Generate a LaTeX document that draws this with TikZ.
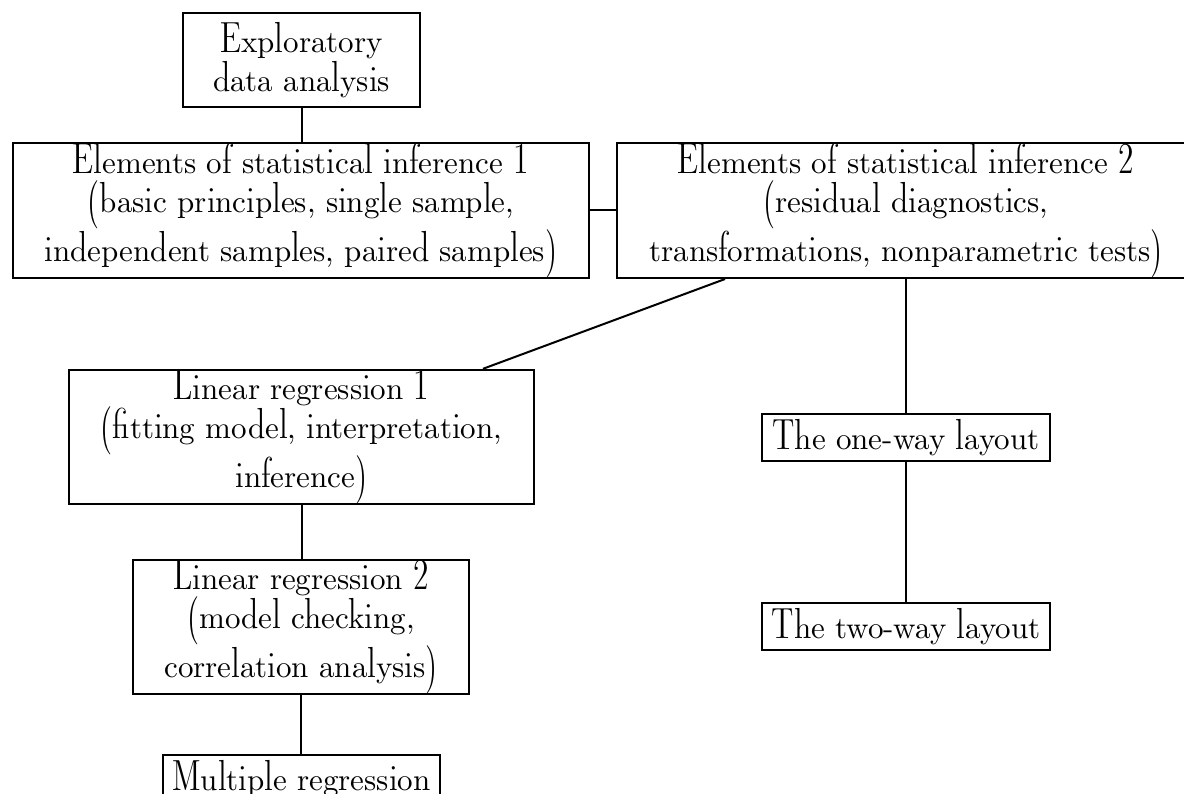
\documentclass[tikz,border=0pt]{standalone}
\begin{document}
\begin{tikzpicture}[x=1pt,y=-1pt,
  box/.style={draw,line width=2pt,align=center,inner sep=0pt,font=\fontfamily{lmdh}\fontsize{31}{39}\selectfont},
  link/.style={line width=2pt}]
\useasboundingbox (0,0) rectangle (1184,794);
\node[box,minimum width=237pt,minimum height=94pt] (eda) at (301.5,60) {Exploratory\\data analysis};
\node[box,minimum width=576pt,minimum height=133pt] (esi1) at (301,210.5) {Elements of statistical inference 1\\(basic principles, single sample,\\independent samples, paired samples)};
\node[box,minimum width=578pt,minimum height=133pt] (esi2) at (906,210.5) {Elements of statistical inference 2\\(residual diagnostics,\\transformations, nonparametric tests)};
\node[box,minimum width=465pt,minimum height=132pt] (lr1) at (301.5,437) {Linear regression 1\\(fitting model, interpretation,\\inference)};
\node[box,minimum width=288pt,minimum height=47pt] (one) at (906,437.5) {The one-way layout};
\node[box,minimum width=336pt,minimum height=134pt] (lr2) at (301,627) {Linear regression 2\\(model checking,\\correlation analysis)};
\node[box,minimum width=288pt,minimum height=47pt] (two) at (906,626.5) {The two-way layout};
\node[box,minimum width=277pt,minimum height=48pt] (mr) at (301.5,779) {Multiple regression};
\coordinate (d1) at ([xshift=-181pt]esi2.south);
\coordinate (d2) at ([xshift=181.5pt]lr1.north);
\draw[link] (eda.south) -- (eda.south |- esi1.north);
\draw[link] (esi1.east) -- (esi2.west);
\draw[link] (d1) -- (d2);
\draw[link] (esi2.south) -- (one.north);
\draw[link] (one.south) -- (two.north);
\draw[link] (lr1.south) -- (lr1.south |- lr2.north);
\draw[link] (lr2.south) -- (lr2.south |- mr.north);
\end{tikzpicture}
\end{document}
